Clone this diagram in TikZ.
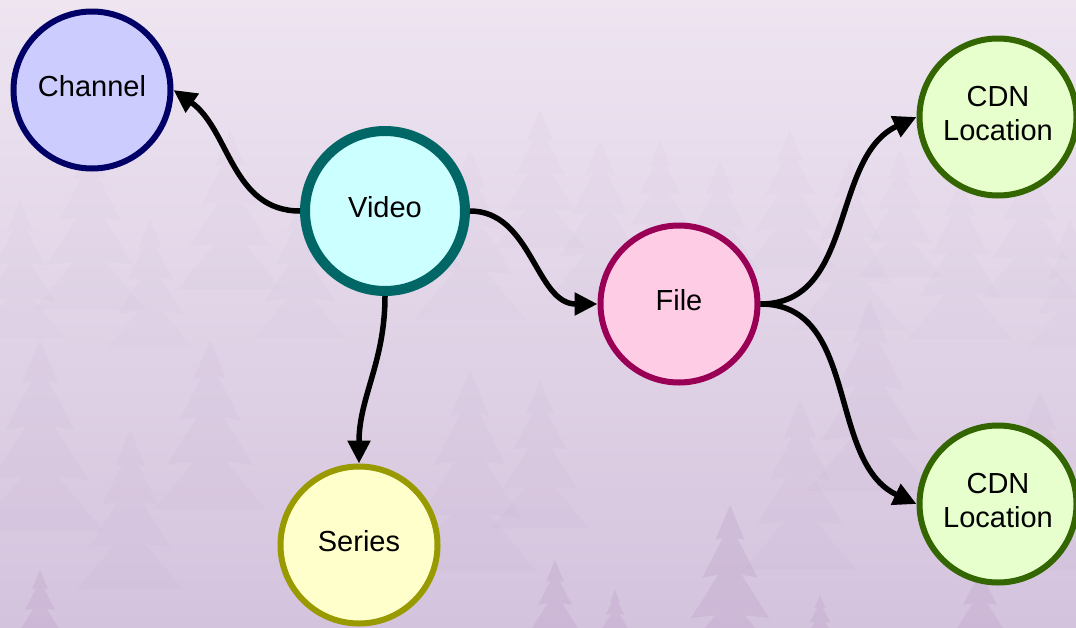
\documentclass[tikz,border=0pt]{standalone}
\usepackage{fontspec}
\setmainfont{Liberation Sans}
\usetikzlibrary{arrows.meta}

\definecolor{skytop}{HTML}{EEE5F1}
\definecolor{skybot}{HTML}{D4C3DD}
\definecolor{treefar}{HTML}{C4B0D0}
\definecolor{treenear}{HTML}{BBA1C7}

\definecolor{chanfill}{HTML}{CCCCFF}
\definecolor{chandraw}{HTML}{000066}
\definecolor{vidfill}{HTML}{CCFFFF}
\definecolor{viddraw}{HTML}{006666}
\definecolor{filefill}{HTML}{FFCCE6}
\definecolor{filedraw}{HTML}{990055}
\definecolor{cdnfill}{HTML}{E6FFCC}
\definecolor{cdndraw}{HTML}{336600}
\definecolor{serfill}{HTML}{FFFFCC}
\definecolor{serdraw}{HTML}{999900}

% centred label, set a little above the middle of its circle
\newcommand\entlabel[1]{\raisebox{2pt}{\begin{tabular}{@{}c@{}}#1\end{tabular}}}

\tikzset{
  entity/.style={circle, minimum size=157pt, inner sep=0pt, line width=6pt,
    font=\fontsize{29}{34}\selectfont, text=black},
  link/.style={line width=5.5pt, draw=black,
    -{Triangle[length=23pt,width=22pt]}},
  fir/.pic={
    \path[fill] (0,-100) -- (-10,-76) -- (-5,-77) -- (-19,-50) -- (-8,-52)
      -- (-27,-22) -- (-10,-24) -- (-35,6) -- (35,6) -- (10,-24) -- (27,-22)
      -- (8,-52) -- (19,-50) -- (5,-77) -- (10,-76) -- cycle;
  }
}

\begin{document}
\begin{tikzpicture}[x=1pt, y=-1pt]
  \useasboundingbox (0,0) rectangle (1076,627);

  % misty sky
  \shade[top color=skytop, bottom color=skybot] (0,0) rectangle (1076,627);

  % distant ridge of firs, almost lost in the fog
  \begin{scope}[fill=treefar, fill opacity=0.07]
    \foreach \x/\y/\s in {20/330/1.3, 90/300/1.6, 150/340/1.2, 230/280/1.5,
      300/330/1.3, 420/260/1.2, 470/310/1.6, 540/240/1.3, 600/290/1.5,
      660/250/1.1, 720/300/1.4, 790/260/1.3, 850/320/1.6, 900/270/1.2,
      960/330/1.5, 1030/290/1.4, 1070/340/1.2} {
      \pic[scale=\s] at (\x,\y) {fir};
    }
  \end{scope}
  \begin{scope}[fill=treefar, fill opacity=0.12]
    \foreach \x/\y/\s in {40/520/1.8, 130/580/1.5, 210/500/1.6, 470/560/1.9,
      540/520/1.4, 800/560/1.6, 870/480/1.8, 1040/560/1.7} {
      \pic[scale=\s] at (\x,\y) {fir};
    }
  \end{scope}
  % nearer firs along the bottom
  \begin{scope}[fill=treenear, fill opacity=0.3]
    \foreach \x/\y/\s in {730/650/1.45, 555/650/0.9, 615/640/0.5,
      820/650/0.55, 40/650/0.8, 980/650/0.9} {
      \pic[scale=\s] at (\x,\y) {fir};
    }
  \end{scope}

  % entities
  \node[entity, fill=chanfill, draw=chandraw] (channel) at (92,90)
    {\entlabel{Channel}};
  \node[entity, fill=vidfill, draw=viddraw, line width=10pt, minimum size=160pt]
    (video) at (385,211) {\entlabel{Video}};
  \node[entity, fill=filefill, draw=filedraw] (file) at (679,304)
    {\entlabel{File}};
  \node[entity, fill=serfill, draw=serdraw] (series) at (359,545)
    {\entlabel{Series}};
  \node[entity, fill=cdnfill, draw=cdndraw] (cdnA) at (998,117)
    {\entlabel{CDN\\Location}};
  \node[entity, fill=cdnfill, draw=cdndraw] (cdnB) at (998,504)
    {\entlabel{CDN\\Location}};

  % relations
  \draw[link] (video.west) to[out=180, in=-35] (channel.east);
  \draw[link] (video.east) to[out=0, in=180] (file.west);
  \draw[link] (video.south) to[out=-90, in=90] (series.north);
  \draw[link] (file.east) to[out=0, in=205] (cdnA.west);
  \draw[link] (file.east) to[out=0, in=155] (cdnB.west);
\end{tikzpicture}
\end{document}
